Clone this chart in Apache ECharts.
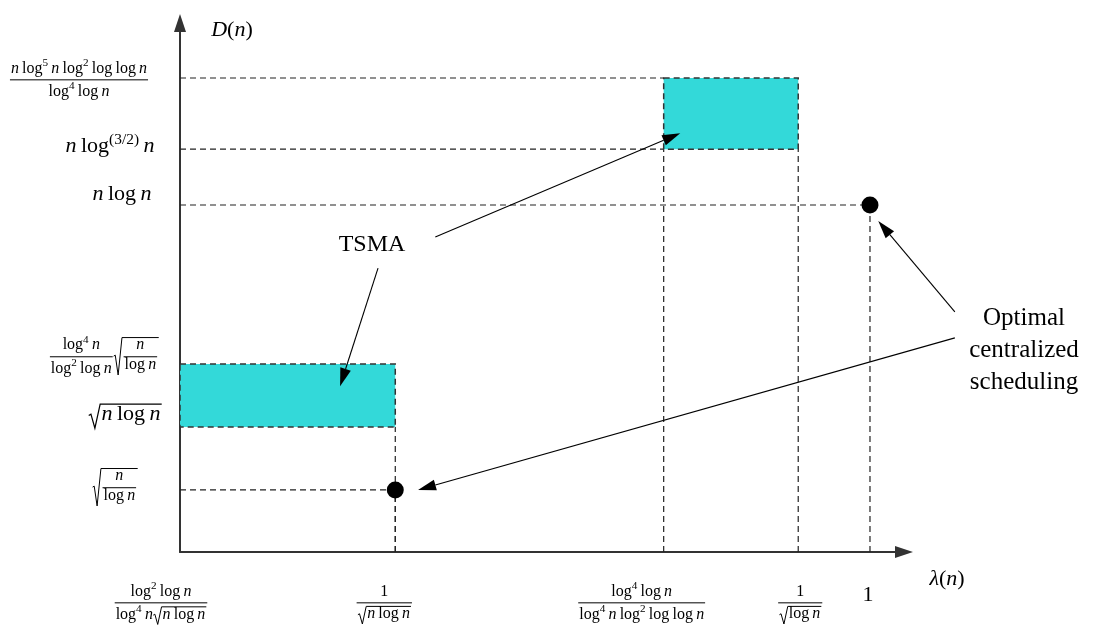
<!DOCTYPE html>
<html>
<head>
<meta charset="utf-8">
<script src="https://cdn.jsdelivr.net/npm/echarts@6/dist/echarts.min.js"></script>
<style>
  html, body { margin: 0; padding: 0; background: #fff; }
  #chart { width: 1098px; height: 629px; }
</style>
</head>
<body>
<div id="chart"></div>
<script>
// ---- data (schematic, monotone units on both axes) ----
// λ(n) tick positions, left to right
const lambdaTicks = [0, 0.312, 0.701, 0.896, 1.0];
// D(n) levels, top to bottom
const delayLevels = [1.366, 1.161, 1.0, 0.542, 0.360, 0.179];
// TSMA delay regions: [λ from, λ to, D from, D to]
const tsmaRegions = [
  [0, 0.312, 0.360, 0.542],
  [0.701, 0.896, 1.161, 1.366]
];
// optimal centralized scheduling: [λ, D]
const optimalPoints = [
  [0.312, 0.179],
  [1.0, 1.0]
];
// annotation arrows: [from λ, from D, to λ, to D]
const tsmaArrows = [
  [0.370, 0.908, 0.725, 1.207],
  [0.287, 0.818, 0.232, 0.478]
];
const optimalArrows = [
  [1.123, 0.692, 1.012, 0.954],
  [1.123, 0.617, 0.345, 0.179]
];
const X_MAX = 1.0493, Y_MAX = 1.5245;

// dashed guides from the axes to every region corner and point
const guides = [];
tsmaRegions.forEach(([x0, x1, y0, y1]) => {
  if (x0 > 0) {
    guides.push([0, y0, x0, y0], [0, y1, x0, y1]);
  }
  guides.push([x0, 0, x0, y0], [x1, 0, x1, y0]);
});
optimalPoints.forEach(([x, y]) => {
  guides.push([0, y, x, y], [x, 0, x, y]);
});
// skip a vertical on the y axis itself
const guideData = guides.filter(g => !(g[0] === 0 && g[2] === 0));

const INK = '#000';
const DASH = [6, 4];

const chart = echarts.init(document.getElementById('chart'), null, { renderer: 'canvas' });

function renderGuide(params, api) {
  const a = api.coord([api.value(0), api.value(1)]);
  const b = api.coord([api.value(2), api.value(3)]);
  return { type: 'line', shape: { x1: a[0], y1: a[1], x2: b[0], y2: b[1] },
    style: { stroke: '#222', lineWidth: 1.2, lineDash: DASH } };
}
function renderRegion(params, api) {
  const p0 = api.coord([api.value(0), api.value(3)]);
  const p1 = api.coord([api.value(1), api.value(2)]);
  return { type: 'rect', shape: { x: p0[0], y: p0[1], width: p1[0] - p0[0], height: p1[1] - p0[1] },
    style: { fill: '#33d9d9', stroke: '#333', lineWidth: 1.5, lineDash: DASH } };
}
function renderArrow(params, api) {
  const a = api.coord([api.value(0), api.value(1)]);
  const b = api.coord([api.value(2), api.value(3)]);
  const dx = b[0] - a[0], dy = b[1] - a[1], len = Math.hypot(dx, dy);
  const ux = dx / len, uy = dy / len, hl = 18, hw = 5.5;
  const bx = b[0] - ux * hl, by = b[1] - uy * hl;
  return { type: 'group', children: [
    { type: 'line', shape: { x1: a[0], y1: a[1], x2: bx, y2: by }, style: { stroke: INK, lineWidth: 1.1 } },
    { type: 'polygon', shape: { points: [[b[0], b[1]], [bx - uy * hw, by + ux * hw], [bx + uy * hw, by - ux * hw]] },
      style: { fill: INK } }
  ] };
}

const axisLine = { show: true, symbol: ['none', 'triangle'], symbolSize: [12, 18],
  lineStyle: { color: '#333', width: 2 } };

chart.setOption({
  animation: false,
  grid: { left: 180, right: 194, top: 23, bottom: 77 },
  xAxis: { type: 'value', min: 0, max: X_MAX, axisLine,
    axisTick: { show: false }, axisLabel: { show: false }, splitLine: { show: false } },
  yAxis: { type: 'value', min: 0, max: Y_MAX, axisLine: Object.assign({}, axisLine),
    axisTick: { show: false }, axisLabel: { show: false }, splitLine: { show: false } },
  series: [
    { type: 'custom', name: 'guides', renderItem: renderGuide, data: guideData, clip: false, silent: true, z: 1 },
    { type: 'custom', name: 'TSMA', renderItem: renderRegion, data: tsmaRegions, clip: false, silent: true, z: 2 },
    { type: 'scatter', name: 'Optimal centralized scheduling', data: optimalPoints, symbolSize: 17,
      itemStyle: { color: INK, opacity: 1 }, silent: true, z: 5 },
    { type: 'custom', name: 'arrows', renderItem: renderArrow, data: tsmaArrows.concat(optimalArrows),
      clip: false, silent: true, z: 4 }
  ]
});

// ---- small math typesetter for the axis labels ----
const SERIF = '"Liberation Serif", "Times New Roman", serif';
const meas = document.createElement('canvas').getContext('2d');
function fontOf(size, it) { return (it ? 'italic ' : '') + size + 'px ' + SERIF; }
function glyphs(s, size, it) {
  meas.font = fontOf(size, it);
  const w = meas.measureText(s).width;
  return { w, asc: 0.7 * size, desc: 0.22 * size,
    draw(x, y, out) {
      out.push({ type: 'text', silent: true, x: x, y: y - 0.34 * size,
        style: { text: s, font: fontOf(size, it), fill: INK,
          align: 'left', verticalAlign: 'middle', textAlign: 'left', textVerticalAlign: 'middle' } });
    } };
}
function space(em, size) { return { w: em * size, asc: 0, desc: 0, draw() {} }; }
function row(...items) {
  let w = 0, asc = 0, desc = 0;
  items.forEach(b => { w += b.w; asc = Math.max(asc, b.asc); desc = Math.max(desc, b.desc); });
  return { w, asc, desc, draw(x, y, out) { let cx = x; items.forEach(b => { b.draw(cx, y, out); cx += b.w; }); } };
}
function shift(b, dy) {
  return { w: b.w, asc: b.asc + dy, desc: Math.max(0, b.desc - dy), draw(x, y, out) { b.draw(x, y - dy, out); } };
}
function rule(x1, y1, x2, y2, lw) {
  return { type: 'line', silent: true, shape: { x1, y1, x2, y2 }, style: { stroke: INK, lineWidth: lw } };
}
function frac(num, den, size) {
  const pad = 0.1 * size, w = Math.max(num.w, den.w) + 2 * pad;
  const axis = 0.26 * size, gap = 0.16 * size, lw = 1;
  const numUp = axis + gap + num.desc, denDown = gap + den.asc - axis;
  return { w, asc: numUp + num.asc, desc: denDown + den.desc,
    draw(x, y, out) {
      num.draw(x + (w - num.w) / 2, y - numUp, out);
      den.draw(x + (w - den.w) / 2, y + denDown, out);
      out.push(rule(x + pad * 0.4, y - axis, x + w - pad * 0.4, y - axis, lw));
    } };
}
function root(b, size) {
  const rw = 0.6 * size, top = b.asc + 0.12 * size, lw = Math.max(1, 0.055 * size);
  const w = rw + b.w + 0.06 * size;
  return { w, asc: top + lw, desc: b.desc + 0.06 * size,
    draw(x, y, out) {
      const bot = y + b.desc + 0.06 * size, t = y - top;
      out.push({ type: 'polyline', silent: true,
        shape: { points: [[x + 0.02 * size, y - 0.3 * size], [x + 0.12 * size, y - 0.36 * size],
          [x + 0.3 * size, bot], [x + rw - 0.06 * size, t], [x + w, t]] },
        style: { stroke: INK, lineWidth: lw, fill: null, lineJoin: 'miter' } });
      b.draw(x + rw, y, out);
    } };
}
function kit(size) {
  return {
    v: t => glyphs(t, size, true),
    r: t => glyphs(t, size, false),
    sp: () => space(0.2, size),
    log: p => p ? row(glyphs('log', size, false), shift(glyphs(p, size * 0.7, false), 0.42 * size))
                : glyphs('log', size, false),
    logn() { return row(this.log(), this.sp(), this.v('n')); },
    size
  };
}
const s = kit(16), L = kit(22);

// D(n) labels, top to bottom (same order as delayLevels)
const delayLabels = [
  frac(row(s.v('n'), s.sp(), s.log('5'), s.sp(), s.v('n'), s.sp(), s.log('2'), s.sp(), s.log(), s.sp(), s.logn()),
       row(s.log('4'), s.sp(), s.logn()), 16),
  row(L.v('n'), L.sp(), L.log('(3/2)'), L.sp(), L.v('n')),
  row(L.v('n'), L.sp(), L.logn()),
  row(frac(row(s.log('4'), s.sp(), s.v('n')), row(s.log('2'), s.sp(), s.logn()), 16),
      root(frac(s.v('n'), s.logn(), 16), 16)),
  root(row(L.v('n'), L.sp(), L.logn()), 22),
  root(frac(s.v('n'), s.logn(), 16), 16)
];
// λ(n) labels, left to right (same order as lambdaTicks)
const lambdaLabels = [
  frac(row(s.log('2'), s.sp(), s.logn()),
       row(s.log('4'), s.sp(), s.v('n'), root(row(s.v('n'), s.sp(), s.logn()), 16)), 16),
  frac(s.r('1'), root(row(s.v('n'), s.sp(), s.logn()), 16), 16),
  frac(row(s.log('4'), s.sp(), s.logn()),
       row(s.log('4'), s.sp(), s.v('n'), s.sp(), s.log('2'), s.sp(), s.log(), s.sp(), s.logn()), 16),
  frac(s.r('1'), root(s.logn(), 16), 16),
  L.r('1')
];

// label layout: centre x (px) and baseline offset from the level (px)
const delayLabelLayout = [[79, 6], [110, 5], [122, -3], [104, -3], [125, -5], [115, 2]];
// x offset from tick and baseline (px)
const lambdaLabelLayout = [[-19, 607], [-11, 607], [-22, 607], [2, 607], [-2, 603]];

function buildGraphics() {
  const out = [];
  const place = (box, cx, base) => box.draw(cx - box.w / 2, base, out);
  delayLevels.forEach((lv, i) => {
    const py = chart.convertToPixel({ gridIndex: 0 }, [0, lv])[1];
    place(delayLabels[i], delayLabelLayout[i][0], py + delayLabelLayout[i][1]);
  });
  lambdaTicks.forEach((lt, i) => {
    const px = chart.convertToPixel({ gridIndex: 0 }, [lt, 0])[0];
    place(lambdaLabels[i], px + lambdaLabelLayout[i][0], lambdaLabelLayout[i][1]);
  });
  // axis names
  place(row(L.v('λ'), L.r('('), L.v('n'), L.r(')')), 947, 587);
  place(row(L.v('D'), L.r('('), L.v('n'), L.r(')')), 232, 38);
  // annotation text
  out.push({ type: 'text', silent: true, x: 372, y: 245,
    style: { text: 'TSMA', font: '24px ' + SERIF, fill: INK,
      align: 'center', verticalAlign: 'middle', textAlign: 'center', textVerticalAlign: 'middle' } });
  out.push({ type: 'text', silent: true, x: 1024, y: 350,
    style: { text: 'Optimal\ncentralized\nscheduling', font: '25px ' + SERIF, fill: INK, lineHeight: 32,
      align: 'center', verticalAlign: 'middle', textAlign: 'center', textVerticalAlign: 'middle' } });
  return out;
}

chart.setOption({ graphic: { elements: buildGraphics() } });
</script>
</body>
</html>
